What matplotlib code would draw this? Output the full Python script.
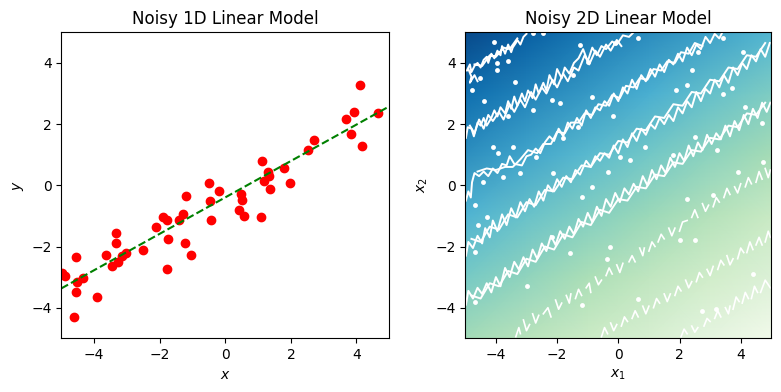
# Noisy linear models - 1D scatter and 2D field
import matplotlib
matplotlib.use("Agg")
import matplotlib.pyplot as plt
import numpy as np

# 1D data -------------------------------
x_pts = [-4.98, -4.90, -4.56, -4.51, -4.54, -4.33, -4.62, -3.90, -3.63, -3.34,
         -3.32, -3.45, -3.26, -3.14, -3.02, -2.52, -2.12, -1.90, -1.78, -1.74,
         -1.77, -1.42, -1.30, -1.19, -1.24, -1.04, -0.51, -0.46, -0.43, -0.18,
         0.47, 0.50, 0.43, 0.56, 1.10, 1.13, 1.17, 1.31, 1.32, 1.35,
         1.80, 1.98, 2.53, 2.71, 3.69, 3.91, 3.84, 4.12, 4.16, 4.66]
y_pts = [-2.87, -2.95, -2.35, -3.16, -3.50, -3.03, -4.30, -3.65, -2.29, -1.57,
         -1.90, -2.64, -2.51, -2.30, -2.22, -2.12, -1.35, -1.05, -1.12, -1.76,
         -2.74, -1.14, -0.95, -0.36, -1.87, -2.29, 0.07, -0.52, -1.14, -0.17,
         -0.30, -0.47, -0.82, -0.99, -1.02, 0.78, 0.15, 0.45, 0.30, -0.13,
         0.58, 0.07, 1.14, 1.47, 2.17, 2.40, 1.68, 3.29, 1.30, 2.37]
line_x = [-5, 5]
line_y = [-3.37, 2.58]

field_x = [-5, -3, -1, 1, 3, 5]
field_y = [-5, -3, -1, 1, 3, 5]
field_z = [[0.61, 0.68, 0.75, 0.82, 0.90, 0.97],
           [0.49, 0.56, 0.64, 0.71, 0.78, 0.85],
           [0.38, 0.45, 0.52, 0.59, 0.67, 0.74],
           [0.26, 0.33, 0.41, 0.48, 0.55, 0.62],
           [0.15, 0.22, 0.29, 0.36, 0.44, 0.51],
           [0.03, 0.10, 0.18, 0.25, 0.32, 0.39]]

# white contour traces --------------------
n = np.nan
band1_x = [-4.95, -4.85, -4.8, -4.7, -4.6, -4.5, -4.4, -4.3, -4.25, -4.15, -4.05, -3.95,
           -3.85, -3.8, -3.7, -3.6, -3.5, -3.45, -3.35, -3.3, -3.2, -3.1, -3.0, n,
           -4.9, -4.8, -4.85, -4.7, -4.6, n, -4.7, -4.45, -4.2, -4.0, -3.75, -3.55, -3.3]
band1_y = [3.75, 3.95, 3.7, 3.9, 4.0, 3.85, 4.1, 4.2, 4.0, 4.3, 4.15, 4.4,
           4.25, 4.55, 4.3, 4.6, 4.35, 4.5, 4.65, 4.75, 4.6, 4.85, 4.95, n,
           3.8, 3.55, 3.35, 3.6, 3.4, n, 3.95, 3.9, 4.25, 4.2, 4.5, 4.45, 4.8]
band2_x = [-4.98, -4.92, -4.8, -4.72, -4.6, -4.5, -4.4, -4.3, -4.15, -4.05, -3.95, -3.85,
           -3.7, -3.6, -3.5, -3.4, -3.3, -3.15, -3.05, -2.95, -2.8, -2.7, -2.6, -2.45,
           -2.35, -2.25, -2.1, -2.0, -1.85, -1.75, -1.6, -1.45, -1.3, -1.15, -1.0, -0.85,
           -0.7, -0.55, -0.4, -0.2, -0.05, 0.15, 0.35, 0.5]
band2_y = [1.55, 1.9, 1.85, 1.6, 2.05, 1.95, 2.2, 1.95, 2.2, 2.45, 2.25, 2.55,
           2.35, 2.75, 2.5, 2.9, 2.6, 3.0, 2.75, 3.1, 2.85, 3.3, 3.0, 3.35,
           3.1, 3.6, 3.3, 3.8, 3.5, 3.85, 3.65, 4.0, 4.15, 4.45, 4.05, 4.5,
           4.25, 4.55, 4.45, 4.7, 4.6, 4.9, 4.85, 5.0]
band2b_x = [-4.85, -4.7, -4.55, -4.4, -4.25, -4.1, -3.9, -3.75, -3.55, -3.4, -3.2, -3.05, -2.85, -2.7, -2.5,
            -2.35, -2.15, -2.0, -1.8, -1.65, -1.45, -1.3, -1.1, -0.95, -0.75, -0.6, -0.4, -0.25, -0.05, 0.1]
band2b_y = [1.95, 1.7, 2.15, 1.85, 2.3, 2.1, 2.4, 2.15, 2.65, 2.4, 2.8, 2.55, 3.05, 2.8, 3.2,
            3.0, 3.45, 3.2, 3.65, 3.4, 3.85, 3.75, 4.25, 3.95, 4.4, 4.2, 4.6, 4.4, 4.75, 4.55]
band3_x = [-4.98, -4.9, -4.82, -4.78, -4.7, -4.55, -4.4, -4.25, -4.1, -3.95, -3.8, -3.65,
           -3.55, -3.4, -3.15, -3.0, -2.85, -2.7, -2.55, -2.4, -2.25, -2.1, -1.95, -1.8,
           -1.65, -1.5, -1.35, -1.2, -1.05, -0.9, -0.75, -0.6, -0.45, -0.3, -0.15, 0.0,
           0.15, 0.3, 0.45, 0.6, 0.75, 0.9, 1.05, 1.2, 1.35, 1.5, 1.65, 1.8,
           1.95, 2.1, 2.25, 2.4, 2.55, 2.7, 2.85, 3.0, 3.15, 3.3, 3.4]
band3_y = [-0.5, -0.2, -0.4, 0.1, 0.4, 0.3, 0.45, 0.3, 0.55, 0.4, 0.7, 0.65,
           0.95, 0.7, 0.65, 0.95, 1.0, 1.2, 1.05, 1.4, 1.6, 1.45, 1.85, 1.6,
           2.05, 1.85, 2.2, 1.95, 2.45, 2.2, 2.55, 2.45, 2.75, 2.6, 3.0, 2.75,
           3.2, 3.0, 3.45, 3.15, 3.6, 3.4, 3.8, 3.55, 3.95, 3.7, 4.1, 3.95,
           4.3, 4.05, 4.5, 4.25, 4.6, 4.45, 4.85, 4.65, 4.95, 4.8, 5.0]
band3b_x = [-4.6, -4.3, -4.0, -3.7, -3.45, -3.2, -2.95, -2.65, -2.45, -2.2, -2.0, -1.75, -1.55, -1.3, -1.1, -0.85,
            -0.65, -0.4, -0.2, 0.05, 0.25, 0.5, 0.7, 0.95, 1.15, 1.4, 1.6, 1.85, 2.05, 2.3, 2.5, 2.75]
band3b_y = [0.45, 0.55, 0.5, 0.6, 0.6, 0.85, 1.15, 1.05, 1.35, 1.35, 1.75, 1.7, 2.05, 2.05, 2.35, 2.3,
            2.65, 2.6, 2.95, 2.85, 3.25, 3.2, 3.5, 3.45, 3.8, 3.75, 4.05, 4.0, 4.35, 4.3, 4.65, 4.55]
band4_x = [-4.98, -4.9, -4.75, -4.6, -4.45, -4.35, -4.2, -4.1, -3.95, -3.8, -3.65, -3.5,
           -3.35, -3.2, -3.05, -2.9, -2.75, -2.6, -2.45, -2.3, -2.15, -2.0, -1.85, -1.7,
           -1.55, -1.4, -1.25, -1.05, -0.9, -0.75, -0.6, -0.45, -0.3, -0.15, 0.0, 0.15,
           0.3, 0.45, 0.6, 0.75, 0.9, 1.05, 1.2, 1.35, 1.5, 1.65, 1.8, 1.95,
           2.1, 2.25, 2.4, 2.55, 2.7, 2.85, 3.0, 3.15, 3.3, 3.45, 3.6, 3.75,
           3.9, 4.05, 4.2, 4.35, 4.5, 4.65, 4.8, 4.95]
band4_y = [-2.3, -1.85, -2.05, -1.65, -1.9, -1.4, -1.7, -1.15, -1.5, -0.95, -1.3, -0.75,
           -1.05, -0.55, -0.85, -0.45, -0.7, -0.2, -0.5, 0.0, -0.2, 0.2, -0.05, 0.3,
           0.1, 0.5, 0.35, 0.8, 0.6, 0.95, 0.8, 1.05, 0.9, 1.3, 1.05, 1.5,
           1.25, 1.7, 1.45, 1.85, 1.65, 2.0, 1.85, 2.2, 2.0, 2.3, 2.1, 2.55,
           2.35, 2.75, 2.55, 3.05, 2.75, 3.15, 3.0, 3.45, 3.2, 3.6, 3.35, 3.85,
           3.6, 4.0, 3.8, 4.25, 4.05, 4.45, 4.2, 4.65]
band4b_x = [-4.8, -4.5, -4.2, -3.9, -3.6, -3.3, -3.0, -2.7, -2.4, -2.1, -1.8, -1.5, -1.2, -0.9, -0.6, -0.3, 0.0,
            0.3, 0.6, 0.9, 1.2, 1.5, 1.8, 2.1, 2.4, 2.7, 3.0, 3.3, 3.6, 3.9, 4.2, 4.5, 4.8]
band4b_y = [-1.75, -1.85, -1.35, -1.45, -0.95, -1.05, -0.55, -0.65, -0.15, -0.2, 0.25, 0.2, 0.65, 0.6, 1.05, 1.0, 1.45,
            1.4, 1.85, 1.8, 2.25, 2.2, 2.65, 2.6, 3.05, 3.0, 3.45, 3.4, 3.85, 3.8, 4.25, 4.2, 4.65]
band5_x = [-4.98, -4.9, -4.75, -4.6, -4.45, -4.3, -4.15, -4.0, -3.85, -3.7, -3.55, -3.4,
           -3.25, -3.1, -2.95, -2.8, -2.65, -2.5, -2.35, -2.2, -2.05, -1.9, -1.75, -1.6,
           -1.45, -1.3, -1.15, -1.0, -0.85, -0.7, -0.55, -0.4, -0.25, -0.1, 0.05, 0.2,
           0.35, 0.5, 0.65, 0.8, 0.95, 1.1, 1.25, 1.4, 1.55, 1.7, 1.85, 2.0,
           2.15, 2.3, 2.45, 2.6, 2.75, 2.9, 3.05, 3.2, 3.35, 3.5, 3.65, 3.8,
           3.95, 4.1, 4.25, 4.4, 4.55, 4.7, 4.85, 4.97]
band5_y = [-3.9, -3.45, -3.7, -3.35, -3.55, -3.2, -3.5, -3.0, -3.3, -2.7, -3.0, -2.5,
           -2.75, -2.35, -2.65, -2.1, -2.4, -1.9, -2.15, -1.65, -1.95, -1.5, -1.75, -1.35,
           -1.6, -1.1, -1.35, -0.9, -1.2, -0.7, -1.0, -0.45, -0.7, -0.25, -0.55, -0.1,
           -0.3, 0.05, -0.2, 0.3, 0.0, 0.5, 0.2, 0.65, 0.4, 0.9, 0.6, 1.05,
           0.8, 1.3, 0.95, 1.4, 1.15, 1.65, 1.35, 1.7, 1.5, 1.95, 1.6, 2.1,
           1.8, 2.3, 2.0, 2.5, 2.2, 2.7, 2.4, 2.7]
band5b_x = [-4.8, -4.5, -4.2, -3.9, -3.6, -3.3, -3.0, -2.7, -2.4, -2.1, -1.8, -1.5, -1.2, -0.9, -0.6, -0.3, 0.0,
            0.3, 0.6, 0.9, 1.2, 1.5, 1.8, 2.1, 2.4, 2.7, 3.0, 3.3, 3.6, 3.9, 4.2, 4.5, 4.8]
band5b_y = [-3.6, -3.7, -3.2, -3.3, -2.8, -2.9, -2.4, -2.5, -2.0, -2.1, -1.6, -1.7, -1.2, -1.3, -0.8, -0.9, -0.45,
            -0.5, -0.05, -0.1, 0.35, 0.3, 0.75, 0.7, 1.15, 1.1, 1.55, 1.5, 1.95, 1.9, 2.35, 2.3, 2.7]

# broken traces, lower right --------------
band6_x = [-3.35, -3.25, -3.2, n, -3.1, -3.0, -2.9, n, -2.8, -2.7, -2.6, n, -2.45, -2.3, -2.2, n,
           -2.05, -1.95, -1.85, n, -1.7, -1.6, -1.55, n, -1.4, -1.3, -1.2, n, -1.05, -0.95, -0.9, n,
           -0.75, -0.65, -0.55, n, -0.4, -0.3, -0.2, n, -0.05, 0.05, 0.15, n, 0.35, 0.45, 0.55, n,
           0.7, 0.8, 0.85, n, 1.0, 1.1, 1.2, n, 1.3, 1.4, 1.5, n, 1.65, 1.75, 1.85, n,
           2.0, 2.1, 2.25, n, 2.4, 2.5, 2.6, n, 2.75, 2.85, 2.95, n, 3.1, 3.2, 3.3, n,
           3.45, 3.55, 3.65, n, 3.8, 3.9, 4.0, n, 4.15, 4.25, 4.35, n, 4.5, 4.6, 4.7, n, 4.8, 4.9, 4.97]
band6_y = [-4.95, -4.65, -4.85, n, -4.4, -4.75, -4.55, n, -4.2, -4.5, -4.25, n, -4.2, -4.0, -4.3, n,
           -3.75, -4.05, -3.85, n, -3.6, -3.85, -3.55, n, -3.7, -3.4, -3.6, n, -3.35, -3.2, -3.5, n,
           -3.0, -3.25, -3.1, n, -2.95, -2.7, -2.9, n, -2.6, -2.85, -2.55, n, -2.5, -2.3, -2.5, n,
           -2.05, -2.3, -2.05, n, -2.15, -1.85, -2.0, n, -1.85, -1.6, -1.75, n, -1.4, -1.65, -1.4, n,
           -1.5, -1.2, -1.15, n, -1.05, -0.8, -1.05, n, -0.6, -0.85, -0.65, n, -0.7, -0.4, -0.55, n,
           -0.4, -0.1, -0.3, n, -0.05, -0.25, 0.05, n, -0.05, 0.25, 0.05, n, 0.1, 0.45, 0.2, n, 0.55, 0.25, 0.5]
band7_x = [-0.55, -0.45, -0.35, n, -0.25, -0.15, -0.05, n, 0.1, 0.2, 0.3, n, 0.45, 0.55, 0.65, n,
           0.8, 0.9, 1.0, n, 1.15, 1.25, 1.35, n, 1.5, 1.6, 1.7, n, 1.85, 1.95, 2.05, n,
           2.2, 2.3, 2.4, n, 2.55, 2.65, 2.75, n, 2.9, 3.0, 3.1, n, 3.25, 3.35, 3.45, n,
           3.55, 3.65, 3.75, n, 3.9, 4.0, 4.1, n, 4.2, 4.3, 4.4, n, 4.5, 4.6, 4.7, n, 4.8, 4.9, 4.97]
band7_y = [-4.95, -4.65, -4.85, n, -4.5, -4.75, -4.55, n, -4.6, -4.3, -4.45, n, -4.35, -4.1, -4.3, n,
           -3.95, -4.2, -3.95, n, -4.0, -3.7, -3.85, n, -3.55, -3.8, -3.55, n, -3.6, -3.3, -3.45, n,
           -3.1, -3.35, -3.15, n, -3.15, -2.85, -3.0, n, -2.75, -2.95, -2.65, n, -2.75, -2.45, -2.6, n,
           -2.3, -2.6, -2.4, n, -2.4, -2.05, -2.2, n, -2.2, -1.85, -2.1, n, -1.95, -1.7, -1.95, n, -1.85, -1.5, -1.7]
band8_x = [2.05, 2.15, 2.25, n, 2.4, 2.5, 2.6, n, 2.8, 2.9, 3.0, n, 3.15, 3.25, 3.35, n,
           3.5, 3.6, 3.65, n, 3.75, 3.85, 3.95, n, 4.05, 4.15, 4.25, n, 4.35, 4.45, 4.55, n, 4.65, 4.8, 4.97]
band8_y = [-4.95, -4.7, -4.85, n, -4.6, -4.8, -4.65, n, -4.6, -4.35, -4.45, n, -4.35, -4.1, -4.3, n,
           -4.0, -4.2, -3.95, n, -4.05, -3.65, -3.8, n, -3.85, -3.5, -3.7, n, -3.7, -3.3, -3.5, n, -3.5, -3.1, -3.35]

# stray islands
dot_x = [-4.05, -3.6, -3.98, -3.98, -4.52, -4.79, -3.38, -2.45, -2.78, -4.38, -3.6, -2.78, -1.25, -0.98,
         -0.1, -1.47, -2.18, -1.91, -0.87, -0.16, -1.31, -1.8, -4.08, -3.92, -3.43, -2.69, -3.21, -3.76,
         -4.41, -2.12, 0.87, 0.38, 0.05, -0.33, -0.87, -1.2, 2.61, 2.4, 2.23, 1.9, 4.09, 3.71, 3.43, 4.14,
         4.68, 2.51, 3.23, 1.8, 4.74, 3.1, 3.92, 0.65, 3.43, -4.68, -4.58, -4.28, -4.68, -3.0, -2.18, -4.68,
         -0.27, -0.38, -1.58, -1.2, 0.65, 2.23, 2.0, 2.5, 4.41, 2.72, 3.2]
dot_y = [4.69, 4.06, 3.99, 3.77, 3.5, 3.12, 3.39, 4.97, 4.97, 2.77, 2.28, 2.46, 4.59, 4.04,
         4.64, 3.61, 2.79, 2.68, 2.9, 2.27, 1.92, 1.54, 1.26, 1.05, 1.26, 0.94, 0.39, 0.28,
         0.12, 0.39, 1.26, 0.83, 0.94, 0.45, -0.04, -0.37, 4.37, 3.77, 3.28, 3.12, 4.37, 3.17, 3.0, 2.57,
         2.03, 1.59, 1.15, 0.99, 0.77, -0.32, 0.45, 4.8, 4.8, -0.64, -1.3, -1.05, -2.19, -3.3, -1.7, -3.8,
         -2.03, -2.42, -2.2, -3.9, -3.7, -0.45, -1.8, -1.8, -2.9, -4.1, -4.05]

# Figure -----------------------------------
fig = plt.figure(figsize=(7.81, 3.92), dpi=100)
ax1 = fig.add_axes([61.3 / 781, 53.7 / 392, 328 / 781, 306 / 392])
ax2 = fig.add_axes([465.3 / 781, 53.7 / 392, 306 / 781, 306 / 392])

ax1.scatter(x_pts, y_pts, color="red")
ax1.plot(line_x, line_y, "g--")
ax1.set_xlim(-5, 5)
ax1.set_ylim(-5, 5)
ax1.set_xticks([-4, -2, 0, 2, 4])
ax1.set_yticks([-4, -2, 0, 2, 4])
ax1.set_xlabel("$x$")
ax1.set_ylabel("$y$")
ax1.set_title("Noisy 1D Linear Model")

ax2.pcolormesh(field_x, field_y, field_z, cmap="GnBu_r", vmin=0, vmax=1, shading="gouraud")
for bx, by in [(band1_x, band1_y), (band2_x, band2_y), (band2b_x, band2b_y), (band3_x, band3_y),
               (band3b_x, band3b_y), (band4_x, band4_y), (band4b_x, band4b_y), (band5_x, band5_y),
               (band5b_x, band5b_y)]:
    ax2.plot(bx, by, color="white", lw=1.4)
for bx, by in [(band6_x, band6_y), (band7_x, band7_y), (band8_x, band8_y)]:
    ax2.plot(bx, by, color="white", lw=1.2)
ax2.plot(dot_x, dot_y, "o", color="white", ms=3.5, mew=0)
ax2.set_xlim(-5, 5)
ax2.set_ylim(-5, 5)
ax2.set_xticks([-4, -2, 0, 2, 4])
ax2.set_yticks([-4, -2, 0, 2, 4])
ax2.set_xlabel("$x_1$")
ax2.set_ylabel("$x_2$")
ax2.set_title("Noisy 2D Linear Model")

fig.savefig("out.png", dpi=100)
